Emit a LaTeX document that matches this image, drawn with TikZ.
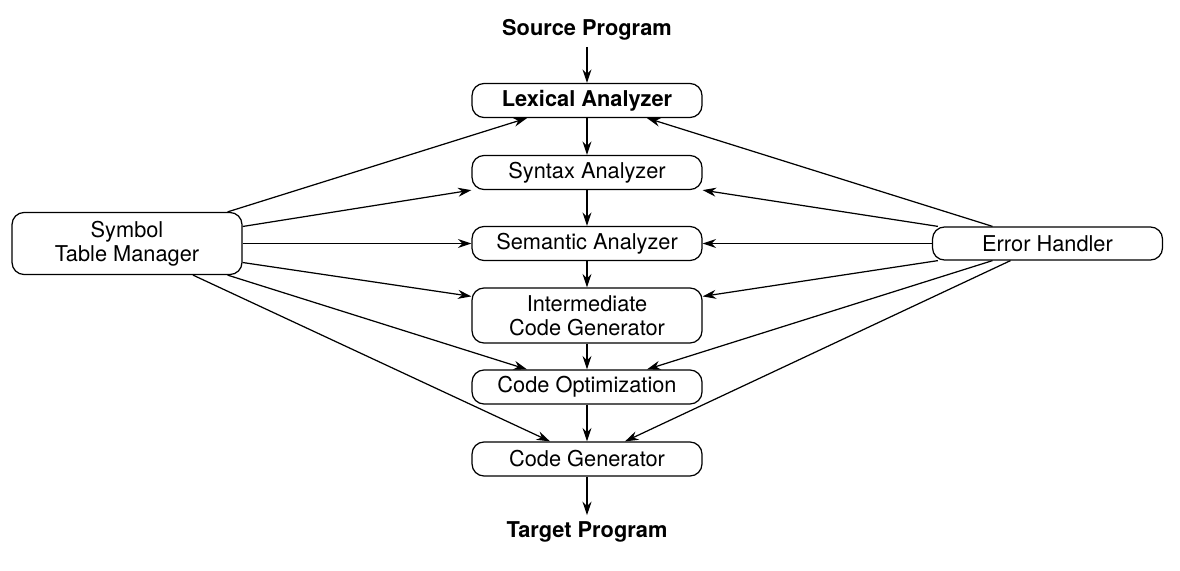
\documentclass[tikz,border=0pt]{standalone}
\usepackage{fontspec}
\setmainfont{TeX Gyre Heros}
\usetikzlibrary{arrows.meta, positioning, calc}

\begin{document}
\begin{tikzpicture}[x=0.02cm, y=-0.02cm, line width=0.7pt, >={Stealth[length=2.7mm, width=1.8mm]},
    every node/.style={font=\fontsize{12.4}{13.6}\selectfont},
    phase/.style={draw, rounded corners=0.24cm, minimum width=4.6cm, minimum height=0.68cm, align=center, inner sep=0pt}]
    \useasboundingbox (0,0) rectangle (1180,571);

    \node (src) at (587,30) {\textbf{Source Program}};
    \node (lex) [phase] at (587,100.5) {\textbf{Lexical Analyzer}};
    \node (syn) [phase] at (587,172.5) {Syntax Analyzer};
    \node (sem) [phase] at (587,243.5) {Semantic Analyzer};
    \node (icg) [phase, minimum height=1.1cm] at (587,315.5) {Intermediate\\Code Generator};
    \node (opt) [phase] at (587,387) {Code Optimization};
    \node (gen) [phase] at (587,459) {Code Generator};
    \node (tgt) at (587,532) {\textbf{Target Program}};

    \node (stm) [phase, minimum height=1.24cm] at (127,243.5) {Symbol\\Table Manager};
    \node (err) [phase, minimum height=0.66cm] at (1047.5,243.5) {Error Handler};

    \foreach \a/\b in {src/lex, lex/syn, syn/sem, sem/icg, icg/opt, opt/gen, gen/tgt} { \draw [->] (\a) -- (\b); }

    % symbol table manager
    \draw [->] ($(stm.north east)+(-15,0)$) -- ($(lex.south)+(-60,0)$);
    \draw [->] ($(stm.east)+(0,-17)$) -- (syn.south west);
    \draw [->] (stm.east) -- (sem.west);
    \draw [->] ($(stm.east)+(0,19)$) -- ($(icg.north west)+(0,9)$);
    \draw [->] ($(stm.south east)+(-15,0)$) -- ($(opt.north)+(-60,0)$);
    \draw [->] ($(stm.south)+(66,0)$) -- ($(gen.north)+(-37,0)$);

    % error handler
    \draw [->] ($(err.north)+(-55,0)$) -- ($(lex.south)+(60,0)$);
    \draw [->] ($(err.north west)+(6,0)$) -- (syn.south east);
    \draw [->] (err.west) -- (sem.east);
    \draw [->] ($(err.south west)+(6,0)$) -- ($(icg.north east)+(0,9)$);
    \draw [->] ($(err.south)+(-55,0)$) -- ($(opt.north)+(60,0)$);
    \draw [->] ($(err.south)+(-37,0)$) -- ($(gen.north)+(38,0)$);
\end{tikzpicture}
\end{document}
